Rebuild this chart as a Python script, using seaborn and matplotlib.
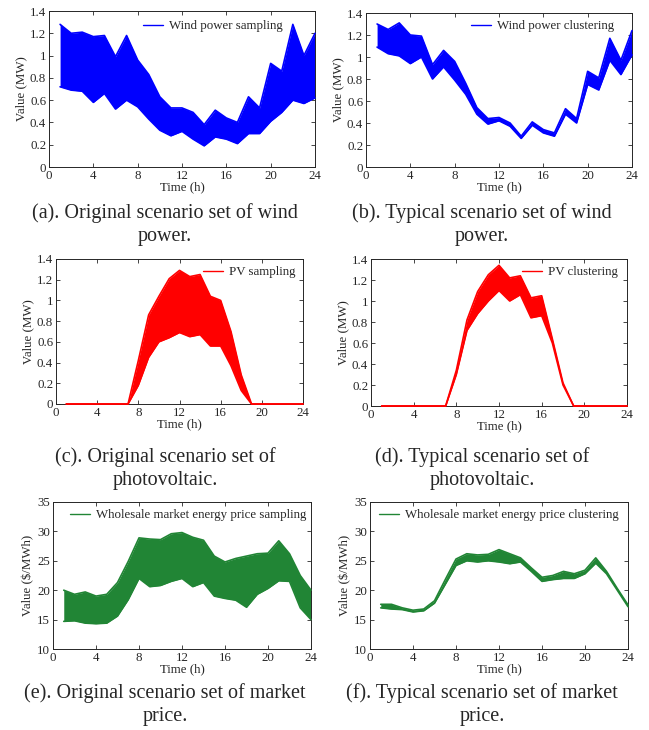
import numpy as np
import pandas as pd
import matplotlib
matplotlib.use("Agg")
import matplotlib.pyplot as plt
import seaborn as sns

hours = list(range(1, 25))

# (a) wind sampling envelope
wind_s_upper = [1.28, 1.20, 1.21, 1.17, 1.18, 0.99, 1.18, 0.96, 0.83, 0.63, 0.53, 0.53,
                0.49, 0.38, 0.51, 0.44, 0.40, 0.63, 0.53, 0.93, 0.86, 1.28, 1.00, 1.20]
wind_s_lower = [0.72, 0.69, 0.68, 0.58, 0.66, 0.52, 0.60, 0.54, 0.43, 0.33, 0.28, 0.32,
                0.25, 0.19, 0.27, 0.25, 0.21, 0.30, 0.30, 0.41, 0.49, 0.60, 0.57, 0.62]
# (b) wind clustering envelope
wind_c_upper = [1.30, 1.25, 1.31, 1.20, 1.19, 0.93, 1.06, 0.96, 0.76, 0.54, 0.44, 0.45,
                0.40, 0.28, 0.41, 0.34, 0.31, 0.53, 0.44, 0.87, 0.81, 1.17, 0.97, 1.24]
wind_c_lower = [1.09, 1.03, 1.01, 0.94, 1.00, 0.80, 0.91, 0.79, 0.66, 0.48, 0.39, 0.42,
                0.37, 0.26, 0.38, 0.31, 0.28, 0.48, 0.40, 0.75, 0.70, 0.97, 0.84, 1.02]
# (c) PV sampling envelope
pv_s_upper = [0, 0, 0, 0, 0, 0, 0, 0.42, 0.86, 1.04, 1.21, 1.29,
              1.23, 1.25, 1.04, 1.00, 0.70, 0.28, 0, 0, 0, 0, 0, 0]
pv_s_lower = [0, 0, 0, 0, 0, 0, 0, 0.18, 0.45, 0.60, 0.64, 0.69,
              0.65, 0.67, 0.56, 0.56, 0.37, 0.13, 0, 0, 0, 0, 0, 0]
# (d) PV clustering envelope
pv_c_upper = [0, 0, 0, 0, 0, 0, 0, 0.34, 0.82, 1.09, 1.25, 1.34,
              1.22, 1.24, 1.03, 1.05, 0.64, 0.22, 0, 0, 0, 0, 0, 0]
pv_c_lower = [0, 0, 0, 0, 0, 0, 0, 0.30, 0.72, 0.88, 1.00, 1.10,
              1.00, 1.06, 0.84, 0.86, 0.60, 0.20, 0, 0, 0, 0, 0, 0]
# (e) price sampling envelope
price_s_upper = [20.0, 19.3, 19.7, 19.0, 19.3, 21.3, 24.9, 28.9, 28.7, 28.6, 29.6, 29.8,
                 29.0, 28.5, 25.8, 24.8, 25.4, 25.8, 26.2, 26.3, 28.4, 26.2, 22.5, 20.0]
price_s_lower = [14.7, 14.8, 14.4, 14.3, 14.4, 15.6, 18.4, 22.0, 20.6, 20.8, 21.5, 22.0,
                 20.6, 21.3, 19.0, 18.6, 18.3, 17.1, 19.3, 20.3, 21.6, 21.5, 17.0, 15.0]
# (f) price clustering envelope
price_c_upper = [17.6, 17.6, 17.0, 16.6, 16.8, 18.2, 21.8, 25.3, 26.2, 26.0, 26.1, 26.9,
                 26.2, 25.5, 23.8, 22.2, 22.5, 23.2, 22.8, 23.4, 25.5, 23.2, 20.3, 17.5]
price_c_lower = [17.0, 16.8, 16.7, 16.3, 16.5, 17.8, 21.0, 24.2, 25.0, 24.8, 25.0, 24.8,
                 24.5, 24.8, 23.2, 21.5, 21.8, 22.0, 22.0, 22.8, 24.6, 22.8, 20.0, 17.2]

mw_ticks = ["0", "0.2", "0.4", "0.6", "0.8", "1", "1.2", "1.4"]
price_ticks = ["10", "15", "20", "25", "30", "35"]

W, H = 649, 730
fig = plt.figure(figsize=(W / 100, H / 100), dpi=100)
sns.set_style("ticks")
plt.rcParams["font.family"] = ["Liberation Serif", "DejaVu Serif"]


def rect(l, r, t, b):
    return [l / W, 1 - b / H, (r - l) / W, (b - t) / H]


panels = [
    (rect(49, 315, 11, 167), wind_s_upper, wind_s_lower, "#0000ff", "Wind power sampling",
     (0, 1.4), np.arange(0, 1.41, 0.2), mw_ticks, "Value (MW)", (283, 26)),
    (rect(366, 632, 13, 167), wind_c_upper, wind_c_lower, "#0000ff", "Wind power clustering",
     (0, 1.4), np.arange(0, 1.41, 0.2), mw_ticks, "Value (MW)", (614, 26)),
    (rect(56, 303, 259, 404), pv_s_upper, pv_s_lower, "#ff0000", "PV sampling",
     (0, 1.4), np.arange(0, 1.41, 0.2), mw_ticks, "Value (MW)", (295, 272)),
    (rect(371, 627, 259, 406), pv_c_upper, pv_c_lower, "#ff0000", "PV clustering",
     (0, 1.4), np.arange(0, 1.41, 0.2), mw_ticks, "Value (MW)", (618, 272)),
    (rect(53, 311, 502, 649), price_s_upper, price_s_lower, "#218535",
     "Wholesale market energy price sampling",
     (10, 35), np.arange(10, 36, 5), price_ticks, "Value ($/MWh)", (306, 515)),
    (rect(370, 628, 502, 649), price_c_upper, price_c_lower, "#218535",
     "Wholesale market energy price clustering",
     (10, 35), np.arange(10, 36, 5), price_ticks, "Value ($/MWh)", (619, 515)),
]

for r, up, lo, col, lab, ylim, yt, ytl, ylab, lpos in panels:
    ax = fig.add_axes(r)
    df = pd.DataFrame({
        "hour": hours * 2,
        "value": list(up) + list(lo),
        "scen": ["upper"] * 24 + ["lower"] * 24,
    })
    ax.fill_between(hours, lo, up, color=col, linewidth=0)
    sns.lineplot(data=df, x="hour", y="value", units="scen", estimator=None,
                 color=col, linewidth=1.2, ax=ax, legend=False)
    for ln in ax.lines:
        ln.set_clip_on(False)
        ln.set_zorder(3)
    ax.plot([], [], color=col, linewidth=1.0, label=lab)
    ax.set_xlim(0, 24)
    ax.set_ylim(*ylim)
    ax.set_xticks(range(0, 25, 4))
    ax.set_yticks(yt)
    ax.set_yticklabels(ytl)
    ax.tick_params(direction="in", top=True, right=True, labelsize=9.3, length=3, width=0.6, pad=2)
    for s in ax.spines.values():
        s.set_linewidth(0.7)
    ax.set_xlabel("Time (h)", fontsize=9.3, labelpad=0)
    ax.set_ylabel(ylab, fontsize=9.3, labelpad=2)
    ax.legend(loc="center right", bbox_to_anchor=(lpos[0] / W, 1 - lpos[1] / H),
              bbox_transform=fig.transFigure, frameon=False, fontsize=9.3,
              handlelength=1.55, handletextpad=0.45, borderpad=0, borderaxespad=0)

caps = [
    (165, 213, "(a). Original scenario set of wind", "power."),
    (482, 213, "(b). Typical scenario set of wind", "power."),
    (165, 457, "(c). Original scenario set of", "photovoltaic."),
    (482, 457, "(d). Typical scenario set of", "photovoltaic."),
    (165, 693, "(e). Original scenario set of market", "price."),
    (482, 693, "(f). Typical scenario set of market", "price."),
]
for x, y, t1, t2 in caps:
    fig.text(x / W, 1 - y / H, t1, ha="center", va="center", fontsize=14.5)
    fig.text(x / W, 1 - (y + 23) / H, t2, ha="center", va="center", fontsize=14.5)

fig.savefig("out.png", dpi=100)
